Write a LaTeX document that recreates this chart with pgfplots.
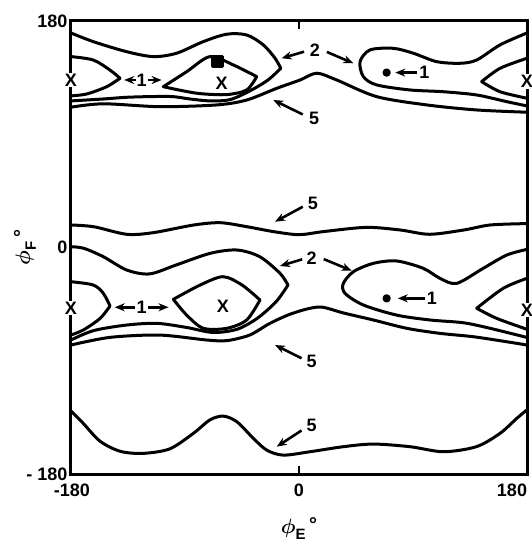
\documentclass[border=0pt]{standalone}
\usepackage{amsmath}
\usepackage{pgfplots}
\pgfplotsset{compat=1.18}
\usepackage{fontspec}
\setmainfont{Liberation Sans}
\usetikzlibrary{arrows.meta}
\begin{document}
\begin{tikzpicture}
\begin{axis}[name=ax, scale only axis, width=456pt, height=453pt,
  xmin=-180, xmax=180, ymin=-180, ymax=180, clip=false,
  axis line style={line width=3pt},
  xtick={-180,0,180}, ytick={-180,0,180},
  xticklabels={\hspace*{2pt}-180, 0, 180\hspace*{30pt}},
  yticklabels={- 180, 0, 180},
  tick align=inside, xtick pos=both, xticklabel pos=lower,
  major tick length=8pt,
  xtick style={line width=2.5pt, black},
  ytick style={draw=none},
  ticklabel style={font=\fontsize{18}{20}\selectfont\bfseries},
  xticklabel style={yshift=-6pt},
  xlabel={\ensuremath{\boldsymbol{\phi}}\raisebox{-0.3em}{\fontsize{15}{15}\selectfont E}\,\raisebox{0.1em}{°}},
  ylabel={\ensuremath{\boldsymbol{\phi}}\raisebox{-0.3em}{\fontsize{15}{15}\selectfont F}\,\raisebox{0.1em}{°}},
  label style={font=\fontsize{20}{22}\selectfont\bfseries},
  xlabel style={at={(axis description cs:0.5,-0.121)}, anchor=center},
  ylabel style={at={(axis description cs:-0.101,0.5)}, anchor=center},
  every axis plot/.append style={line width=3pt, black, line join=round, line cap=round},
]
% ---------- bottom level 5
\addplot[smooth] coordinates {(-180,-130) (-170.3,-139.8) (-157,-154) (-141,-162) (-123,-163.6) (-102,-160) (-83.4,-147.7) (-70.3,-137) (-59.8,-134) (-49,-138.5) (-36,-151.7) (-25.5,-161) (-12.4,-165) (8.7,-162.3) (35,-158.3) (58.7,-156.2) (87.6,-158.3) (114,-162.3) (140,-158.3) (158.7,-147.7) (171.9,-135.8) (180,-129)};
% ---------- middle band
\addplot[smooth] coordinates {(-180,17.9) (-162,16.5) (-136,10.5) (-115,11.8) (-83,17.9) (-62,19.7) (-41,16.5) (-20,12.6) (0,10.2) (19,12.6) (53,16) (80,13.9) (103,10.5) (130,13.9) (151,17.9) (180,19)};
\addplot[smooth] coordinates {(-180,-73.5) (-162,-66) (-136,-61.6) (-112,-60.3) (-89,-63.5) (-68,-67.5) (-49,-65) (-33,-56.3) (-18,-43) (-8.7,-29.8)};
\addplot[smooth] coordinates {(-8.7,-29.8) (-15,-20.5) (-31,-7.3) (-49,-2) (-70,-4.6) (-97,-13.9) (-118,-21) (-136,-17.9) (-154.5,-7.3) (-170,-0.6) (-180,0.6)};
\addplot[smooth] coordinates {(180,-1.5) (164,-6) (145.5,-16.5) (124.5,-28.5) (111.3,-24.5) (98,-16.5) (77,-10.7) (58.7,-12.6) (43,-19.2) (35,-28.5) (36.3,-36.4) (50.8,-45.7) (77,-53.7) (103.4,-57.6) (129.7,-59.8) (150.8,-64.2) (180,-71.5)};
\addplot[smooth] coordinates {(-99.2,-41.2) (-78,-29.8) (-60,-23.2) (-45,-29.8) (-30.8,-41.7)};
\addplot[smooth] coordinates {(-30.8,-41.7) (-41.3,-57.6) (-57,-64.2) (-75.6,-64.2) (-88.7,-53.7) (-99.2,-41.2)};
\addplot[smooth] coordinates {(-180,-27.2) (-162.4,-29.8) (-154.5,-36.4) (-149.2,-46.5)};
\addplot[smooth] coordinates {(-149.2,-46.5) (-157,-56.3) (-170.3,-65.6) (-180,-69.5)};
\addplot[smooth] coordinates {(180,-24.5) (161.3,-32.4) (140.3,-48.3)};
\addplot[smooth] coordinates {(140.3,-48.3) (156,-56.3) (180,-65)};
\addplot[smooth] coordinates {(-180,-77.5) (-149,-71.4) (-110,-69.6) (-73,-73.5) (-57,-74) (-39,-69.6) (-23,-60.3) (-7,-53) (8.7,-48.3) (19,-47.5) (35,-52) (58.7,-57.6) (85,-64.2) (111,-68.2) (137.6,-70.9) (164,-74.9) (180,-77.5)};
% ---------- top band
\addplot[smooth] coordinates {(-180,111.5) (-154.5,114.2) (-109.7,111.9) (-65,113.3) (-41.3,117.2) (-17.6,126.5) (0.8,133.1) (14,138.5) (29.8,133.1) (61.3,119.9) (100.8,113.3) (140.3,109.3) (180,107.5)};
\addplot[smooth] coordinates {(-180,116.5) (-154.7,118) (-133.4,119.5) (-101.8,120) (-86,118) (-70.3,116.5) (-54.5,117.5) (-38.7,124.5) (-24.5,133.1) (-14.4,142.4)};
\addplot[smooth] coordinates {(-14.4,142.4) (-18.9,150.4) (-28.2,161) (-41.3,168.9) (-57.1,169.5) (-75.6,163.6) (-96.6,154.4) (-115,151.7) (-136,155.6) (-162.4,163.6) (-180,170.5)};
\addplot[smooth] coordinates {(180,170.5) (158.7,161) (140.3,149) (127.1,146.4) (108.7,147.7) (90.2,154.4) (74.4,158.3) (56,157) (48.2,147.7) (50.8,135.8) (61.3,129.2) (87.6,125.2) (113.9,123.8) (140.3,121.2) (164,115.9) (180,112.5)};
\addplot[smooth] coordinates {(-107.1,127.8) (-88.7,139.7) (-70.3,151.7) (-51.9,145.1) (-33.4,135.8)};
\addplot[smooth] coordinates {(-33.4,135.8) (-41.3,125.2) (-57.1,121.5) (-78.2,122.3) (-94,125) (-107.1,127.8)};
\addplot[smooth] coordinates {(-180,151.7) (-162.4,149) (-149.2,141) (-141.3,134.5)};
\addplot[smooth] coordinates {(-141.3,134.5) (-151.8,127.8) (-167.6,122) (-180,120.5)};
\addplot[smooth] coordinates {(180,150.4) (158.7,142.4) (144.2,131.8)};
\addplot[smooth] coordinates {(144.2,131.8) (158.7,123.8) (180,118.6)};
% ---------- minima markers
\addplot[only marks, mark=*, mark size=2.6pt] coordinates {(69.2,139) (69.2,-40.4)};
\addplot[only marks, mark=square*, mark size=5pt] coordinates {(-64.3,147.5)};
% ---------- annotations
\tikzset{lab/.style={font=\fontsize{18}{20}\selectfont\bfseries, inner sep=1pt},
  arr/.style={line width=2.6pt, -{Stealth[length=10pt,width=8pt]}}}
\node[lab] at (axis cs:-61,130.5) {X};
\node[lab] at (axis cs:-60,-47) {X};
\coordinate (xa) at (axis cs:-180,133);
\coordinate (xb) at (axis cs:180,132);
\coordinate (xc) at (axis cs:-180,-48);
\coordinate (xd) at (axis cs:180,-49.7);
% labels 1
\node[lab] at (axis cs:-124.2,133.1) {1};
\draw[arr] (axis cs:-129,133.1) -- (axis cs:-138,133.1);
\draw[arr] (axis cs:-119.5,133.1) -- (axis cs:-108.5,133.1);
\node[lab] at (axis cs:-124.2,-47.5) {1};
\draw[arr] (axis cs:-129.5,-47.5) -- (axis cs:-145.5,-47.5);
\draw[arr] (axis cs:-119,-47.5) -- (axis cs:-103,-47.5);
\node[lab] at (axis cs:99,139) {1};
\draw[arr] (axis cs:93.5,139) -- (axis cs:76,139);
\node[lab] at (axis cs:105,-40.4) {1};
\draw[arr] (axis cs:99.5,-40.4) -- (axis cs:78,-40.4);
% labels 2
\node[lab] at (axis cs:12.6,157) {2};
\draw[arr] (axis cs:4,155.6) -- (axis cs:-13.7,150.4);
\draw[arr] (axis cs:22,155.4) -- (axis cs:42.9,146.4);
\node[lab] at (axis cs:10,-8.6) {2};
\draw[arr] (axis cs:2.5,-9.4) -- (axis cs:-15,-14.7);
\draw[arr] (axis cs:19.5,-9.2) -- (axis cs:41.6,-18.4);
% labels 5
\node[lab] at (axis cs:12,102.7) {5};
\draw[arr] (axis cs:3,105.7) -- (axis cs:-20.3,117.2);
\node[lab] at (axis cs:11,35.1) {5};
\draw[arr] (axis cs:3,32.4) -- (axis cs:-18.9,20.5);
\node[lab] at (axis cs:10,-90.8) {5};
\draw[arr] (axis cs:2,-88) -- (axis cs:-18.9,-77.5);
\node[lab] at (axis cs:10,-141) {5};
\draw[arr] (axis cs:2,-145.4) -- (axis cs:-17.6,-158.3);
\end{axis}
\foreach \c in {xa,xb,xc,xd} {\node[fill=white, inner sep=1pt, font=\fontsize{18}{20}\selectfont\bfseries] at (\c) {X};}
\pgfresetboundingbox
\path[use as bounding box] ([xshift=-71pt,yshift=-70pt]ax.south west) rectangle ([xshift=5pt,yshift=21pt]ax.north east);
\end{tikzpicture}
\end{document}
